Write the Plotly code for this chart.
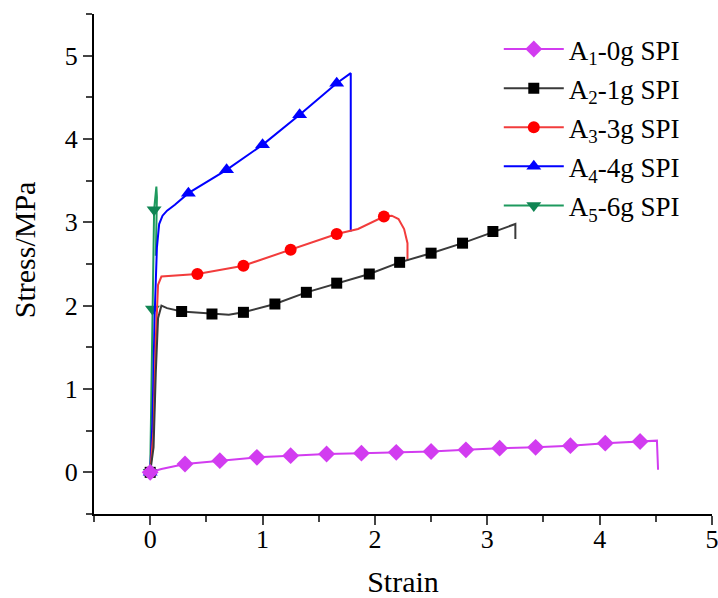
import plotly.graph_objects as go

# ---------------- data ----------------
names = ["A<sub>1</sub>-0g SPI", "A<sub>2</sub>-1g SPI", "A<sub>3</sub>-3g SPI",
         "A<sub>4</sub>-4g SPI", "A<sub>5</sub>-6g SPI"]

a1_x = [0.0, 0.1, 0.31, 0.62, 0.95, 1.25, 1.57, 1.88, 2.19, 2.5, 2.81, 3.11, 3.43, 3.74, 4.05, 4.36, 4.51, 4.52]
a1_y = [0.0, 0.04, 0.10, 0.14, 0.18, 0.20, 0.22, 0.23, 0.24, 0.25, 0.27, 0.29, 0.30, 0.32, 0.35, 0.37, 0.38, 0.03]
a1_mx = [0.0, 0.31, 0.62, 0.95, 1.25, 1.57, 1.88, 2.19, 2.5, 2.81, 3.11, 3.43, 3.74, 4.05, 4.36]
a1_my = [0.0, 0.10, 0.14, 0.18, 0.20, 0.22, 0.23, 0.24, 0.25, 0.27, 0.29, 0.30, 0.32, 0.35, 0.37]

a2_x = [0.0, 0.03, 0.05, 0.07, 0.1, 0.15, 0.28, 0.55, 0.7, 0.83, 1.11, 1.39, 1.66, 1.95, 2.22, 2.5, 2.78, 3.05, 3.25, 3.25]
a2_y = [0.0, 0.3, 1.2, 1.85, 2.0, 1.97, 1.93, 1.90, 1.89, 1.92, 2.02, 2.16, 2.27, 2.38, 2.52, 2.63, 2.75, 2.88, 2.98, 2.80]
a2_mx = [0.0, 0.28, 0.55, 0.83, 1.11, 1.39, 1.66, 1.95, 2.22, 2.5, 2.78, 3.05]
a2_my = [0.0, 1.93, 1.90, 1.92, 2.02, 2.16, 2.27, 2.38, 2.52, 2.63, 2.75, 2.89]

a3_x = [0.0, 0.03, 0.05, 0.07, 0.1, 0.2, 0.42, 0.83, 1.25, 1.66, 1.85, 2.08, 2.15, 2.21, 2.26, 2.29, 2.29]
a3_y = [0.0, 0.5, 1.6, 2.25, 2.35, 2.36, 2.38, 2.48, 2.67, 2.86, 2.92, 3.07, 3.08, 3.04, 2.92, 2.75, 2.54]
a3_mx = [0.0, 0.42, 0.83, 1.25, 1.66, 2.08]
a3_my = [0.0, 2.38, 2.48, 2.67, 2.86, 3.07]

a4_x = [0.0, 0.02, 0.04, 0.06, 0.08, 0.11, 0.15, 0.22, 0.34, 0.68, 1.0, 1.33, 1.66, 1.785, 1.785]
a4_y = [0.0, 0.6, 1.9, 2.7, 2.98, 3.08, 3.14, 3.21, 3.35, 3.63, 3.93, 4.29, 4.67, 4.79, 2.89]
a4_mx = [0.0, 0.34, 0.68, 1.0, 1.33, 1.66]
a4_my = [0.0, 3.35, 3.63, 3.93, 4.29, 4.67]

a5_x = [0.0, 0.01, 0.02, 0.035, 0.055, 0.06, 0.05]
a5_y = [0.0, 1.0, 1.96, 3.15, 3.43, 3.3, 2.6]
a5_mx = [0.0, 0.02, 0.035]
a5_my = [0.0, 1.96, 3.15]

x_ticks = [0, 1, 2, 3, 4, 5]
y_ticks = [0, 1, 2, 3, 4, 5]
x_title = "Strain"
y_title = "Stress/MPa"

line_colors = ["#D23CF0", "#3A3A3A", "#F23C3C", "#0000FF", "#1E9A5E"]
mark_colors = ["#D23CF0", "#000000", "#FF0000", "#0000FF", "#108553"]
symbols = ["diamond", "square", "circle", "triangle-up", "triangle-down"]
msizes = [13, 11, 12, 13, 13]

curves = [(a1_x, a1_y, a1_mx, a1_my), (a2_x, a2_y, a2_mx, a2_my),
          (a3_x, a3_y, a3_mx, a3_my), (a4_x, a4_y, a4_mx, a4_my),
          (a5_x, a5_y, a5_mx, a5_my)]

fig = go.Figure()
order = [4, 3, 2, 1, 0]
for i in order:
    x, y, mx, my = curves[i]
    fig.add_trace(go.Scatter(x=x, y=y, mode="lines",
                             line=dict(color=line_colors[i], width=2),
                             showlegend=False, hoverinfo="skip"))
    fig.add_trace(go.Scatter(x=mx, y=my, mode="markers",
                             marker=dict(symbol=symbols[i], size=msizes[i],
                                         color=mark_colors[i], line=dict(width=0)),
                             showlegend=False))
for i in range(5):
    fig.add_trace(go.Scatter(x=[None], y=[None], mode="lines+markers", name=names[i],
                             legendgroup="g%d" % i,
                             line=dict(color=line_colors[i], width=2),
                             marker=dict(symbol=symbols[i], size=msizes[i],
                                         color=mark_colors[i], line=dict(width=0))))

font_family = "Liberation Serif, DejaVu Serif"
fig.update_layout(
    template="none",
    width=718, height=598,
    margin=dict(l=94, r=6, t=14, b=84),
    paper_bgcolor="white", plot_bgcolor="white",
    font=dict(family=font_family, size=22, color="black"),
    legend=dict(x=0.655, y=0.978, xanchor="left", yanchor="top",
                bgcolor="rgba(0,0,0,0)", font=dict(size=27, family=font_family),
                tracegroupgap=1, itemwidth=60),
    xaxis=dict(range=[-0.5, 5], tickvals=x_ticks, ticks="outside", ticklen=9, tickwidth=2,
               showline=True, linewidth=2, linecolor="black", showgrid=False, zeroline=False,
               ticklabeloverflow="allow", ticklabelstandoff=-8,
               minor=dict(dtick=0.5, tick0=0, ticks="outside", ticklen=6, tickwidth=2, showgrid=False),
               title=dict(text=x_title, font=dict(size=30, family=font_family), standoff=22),
               tickfont=dict(size=26, family=font_family)),
    yaxis=dict(range=[-0.5, 5.5], tickvals=y_ticks, ticks="outside", ticklen=9, tickwidth=2,
               showline=True, linewidth=2, linecolor="black", showgrid=False, zeroline=False,
               minor=dict(dtick=0.5, tick0=0, ticks="outside", ticklen=6, tickwidth=2, showgrid=False),
               tickfont=dict(size=26, family=font_family)),
    annotations=[dict(text=y_title, xref="paper", yref="paper", x=-0.112, y=0.529,
                      xanchor="center", yanchor="middle", textangle=-90, showarrow=False,
                      font=dict(size=30, family=font_family))],
)

fig.write_html("out.html")
